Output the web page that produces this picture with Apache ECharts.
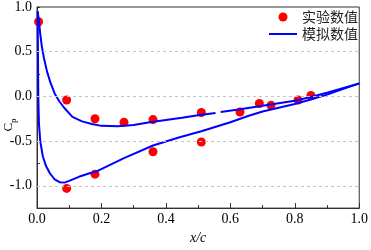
<!DOCTYPE html>
<html>
<head>
<meta charset="utf-8">
<script src="https://cdn.jsdelivr.net/npm/echarts@6/dist/echarts.min.js"></script>
<style>html,body{margin:0;padding:0;background:#fff}#c{width:371px;height:250px}</style>
</head>
<body>
<div id="c"></div>
<script>
// Experimental Cp points [x/c, Cp]
var expPoints = [
  [0.005, 0.835], [0.092, -0.04], [0.18, -0.25], [0.27, -0.29], [0.36, -0.26],
  [0.51, -0.18], [0.63, -0.175], [0.69, -0.08], [0.726, -0.10], [0.81, -0.04],
  [0.85, 0.01], [0.092, -1.03], [0.18, -0.87], [0.36, -0.62], [0.51, -0.51]
];
// Simulated curve, upper branch (null = gap in the line)
var simUpper = [
  [0.002, 0.95], [0.006, 0.85], [0.01, 0.7], [0.015, 0.56], [0.022, 0.42], [0.031, 0.28],
  [0.042, 0.15], [0.055, 0.03], [0.07, -0.06], [0.085, -0.13], [0.11, -0.23], [0.14, -0.28],
  [0.17, -0.31], [0.2, -0.33], [0.25, -0.335], [0.3, -0.32], [0.35, -0.29], [0.4, -0.265],
  [0.45, -0.24], [0.5, -0.21], [0.554, -0.186], [0.562, null], [0.57, -0.175], [0.62, -0.15],
  [0.7, -0.105], [0.8, -0.05], [0.84, -0.015], [0.9, 0.04], [1.0, 0.145]
];
// Simulated curve, lower branch
var simLower = [
  [0.002, 0.95], [0.003, 0.5], [0.004, 0.0], [0.006, -0.3], [0.01, -0.5], [0.018, -0.67],
  [0.028, -0.78], [0.04, -0.86], [0.055, -0.93], [0.07, -0.96], [0.085, -0.965], [0.1, -0.945],
  [0.13, -0.9], [0.163, -0.86], [0.185, -0.84], [0.27, -0.69], [0.36, -0.55], [0.44, -0.46],
  [0.51, -0.39], [0.6, -0.29], [0.655, -0.22], [0.7, -0.17], [0.8, -0.085], [0.85, -0.035],
  [0.9, 0.02], [1.0, 0.145]
];
var gridY = [0.5, 0.0, -0.5, -1.0];
var seriesNames = ['实验数值', '模拟数值'];
var xTitle = 'x/c';

var chart = echarts.init(document.getElementById('c'), null, {renderer: 'canvas'});
var serif = "'Liberation Serif', 'Times New Roman', serif";
var option = {
  animation: false,
  grid: {left: 37, right: 9, top: 7, bottom: 26, show: true, borderColor: '#333', borderWidth: 1, backgroundColor: 'transparent'},
  legend: {
    orient: 'vertical', left: 264, top: 5, itemGap: 3, itemWidth: 28, itemHeight: 9,
    textStyle: {fontFamily: "'Noto Sans CJK SC'", fontSize: 14, color: '#222', lineHeight: 14},
    data: [
      {name: seriesNames[0], icon: 'circle'},
      {name: seriesNames[1], icon: 'path://M0,0L28,0L28,2L0,2Z'}
    ]
  },
  graphic: [{
    type: 'text', x: 7, y: 125, rotation: Math.PI / 2,
    style: {
      text: '{c|C}{p|p}', align: 'center', verticalAlign: 'middle',
      rich: {
        c: {fontFamily: serif, fontSize: 13, fill: '#000', lineHeight: 16, verticalAlign: 'bottom'},
        p: {fontFamily: serif, fontSize: 9, fill: '#000', lineHeight: 9, verticalAlign: 'bottom', padding: [0, 0, -3, 0]}
      }
    }
  }],
  xAxis: {
    type: 'value', min: 0, max: 1, interval: 0.2,
    name: xTitle, nameLocation: 'middle', nameGap: 9,
    nameTextStyle: {fontFamily: serif, fontStyle: 'italic', fontSize: 14, color: '#000'},
    axisLine: {onZero: false, lineStyle: {color: '#333', width: 1}},
    axisTick: {inside: true, length: 5, lineStyle: {color: '#333'}},
    minorTick: {show: true, splitNumber: 2, length: 3, lineStyle: {color: '#333'}},
    axisLabel: {fontFamily: serif, fontSize: 14, color: '#000', margin: 4, formatter: function (v) { return v.toFixed(1); }},
    splitLine: {show: false}
  },
  yAxis: {
    type: 'value', min: -1.25, max: 1, interval: 0.25,
    axisLine: {onZero: false, lineStyle: {color: '#333', width: 1}},
    axisTick: {inside: true, length: 3, lineStyle: {color: '#333'}},
    axisLabel: {fontFamily: serif, fontSize: 14, color: '#000', margin: 5, formatter: function (v) {
      return Math.abs(v * 2 - Math.round(v * 2)) < 1e-6 ? v.toFixed(1) : '';
    }},
    splitLine: {show: false}
  },
  series: [
    {
      name: seriesNames[0], type: 'scatter', data: expPoints, symbol: 'circle', symbolSize: 9,
      itemStyle: {color: '#ff0000', opacity: 1}, z: 2,
      markLine: {silent: true, symbol: 'none', label: {show: false},
        lineStyle: {type: [3, 3], color: '#c4c4c4', width: 1},
        data: gridY.map(function (v) { return {yAxis: v}; })}
    },
    {
      name: seriesNames[1], type: 'line', data: simUpper, showSymbol: false, symbol: 'none',
      connectNulls: false, lineStyle: {color: '#0000ff', width: 2}, itemStyle: {color: '#0000ff'}, z: 3
    },
    {
      name: seriesNames[1], type: 'line', data: simLower, showSymbol: false, symbol: 'none',
      lineStyle: {color: '#0000ff', width: 2}, itemStyle: {color: '#0000ff'}, z: 3
    }
  ]
};
chart.setOption(option);
</script>
</body>
</html>
